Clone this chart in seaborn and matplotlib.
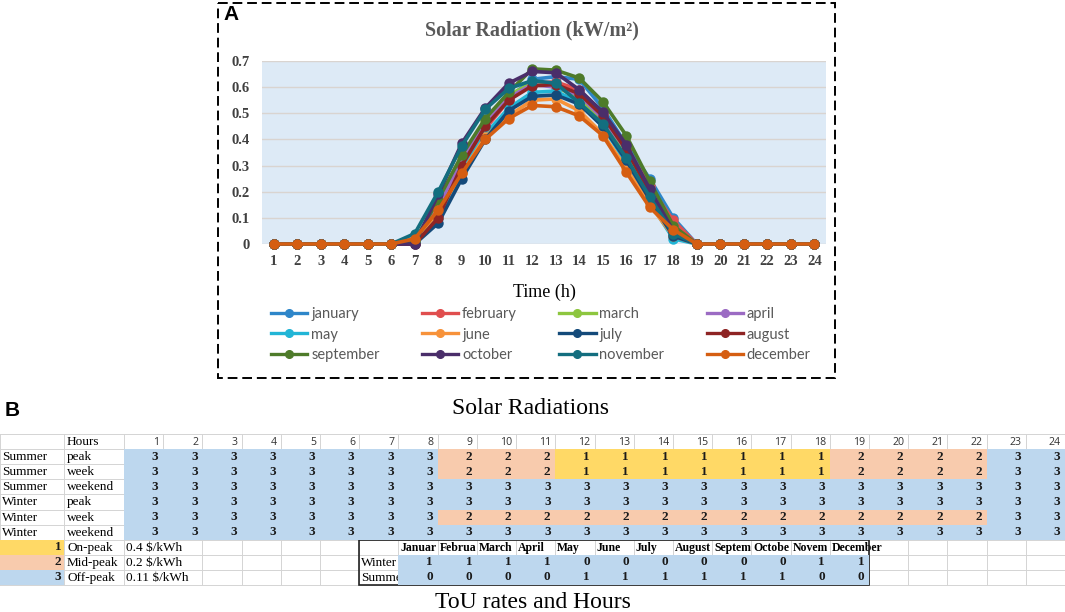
import numpy as np
import pandas as pd
import seaborn as sns
import matplotlib.pyplot as plt
from matplotlib.colors import ListedColormap
from matplotlib.lines import Line2D
from matplotlib.patches import Rectangle

# ---- data: solar radiation (kW/m2) per hour, one list per month ----
hours = list(range(1, 25))
months = ['january', 'february', 'march', 'april', 'may', 'june',
          'july', 'august', 'september', 'october', 'november', 'december']
month_colors = ['#2E86C9', '#E04E4E', '#8DC63F', '#9B6BC3', '#22B5D6', '#F7923A',
                '#144A7A', '#8E2424', '#4E7B2A', '#4A2E6A', '#136E7F', '#D55E12']

january = [0, 0, 0, 0, 0, 0, 0.01, 0.12, 0.30, 0.45, 0.56, 0.63, 0.64, 0.63, 0.52, 0.38, 0.25, 0.10, 0, 0, 0, 0, 0, 0]
february = [0, 0, 0, 0, 0, 0, 0.01, 0.11, 0.29, 0.44, 0.55, 0.615, 0.62, 0.59, 0.50, 0.37, 0.22, 0.09, 0, 0, 0, 0, 0, 0]
march = [0, 0, 0, 0, 0, 0, 0.02, 0.15, 0.33, 0.47, 0.57, 0.615, 0.60, 0.56, 0.47, 0.35, 0.20, 0.06, 0, 0, 0, 0, 0, 0]
april = [0, 0, 0, 0, 0, 0, 0.02, 0.14, 0.32, 0.46, 0.56, 0.61, 0.60, 0.57, 0.48, 0.36, 0.21, 0.06, 0, 0, 0, 0, 0, 0]
may = [0, 0, 0, 0, 0, 0, 0.01, 0.10, 0.28, 0.42, 0.52, 0.58, 0.585, 0.54, 0.45, 0.31, 0.16, 0.02, 0, 0, 0, 0, 0, 0]
june = [0, 0, 0, 0, 0, 0, 0.02, 0.12, 0.27, 0.41, 0.49, 0.55, 0.555, 0.51, 0.42, 0.29, 0.15, 0.03, 0, 0, 0, 0, 0, 0]
july = [0, 0, 0, 0, 0, 0, 0.0, 0.08, 0.25, 0.40, 0.51, 0.565, 0.57, 0.535, 0.45, 0.32, 0.17, 0.03, 0, 0, 0, 0, 0, 0]
august = [0, 0, 0, 0, 0, 0, 0.0, 0.10, 0.30, 0.45, 0.55, 0.605, 0.61, 0.575, 0.49, 0.36, 0.20, 0.05, 0, 0, 0, 0, 0, 0]
september = [0, 0, 0, 0, 0, 0, 0.01, 0.17, 0.34, 0.48, 0.58, 0.67, 0.665, 0.635, 0.545, 0.415, 0.24, 0.07, 0, 0, 0, 0, 0, 0]
october = [0, 0, 0, 0, 0, 0, 0.0, 0.19, 0.385, 0.52, 0.615, 0.66, 0.655, 0.59, 0.505, 0.38, 0.21, 0.05, 0, 0, 0, 0, 0, 0]
november = [0, 0, 0, 0, 0, 0, 0.04, 0.20, 0.375, 0.515, 0.595, 0.625, 0.615, 0.54, 0.46, 0.33, 0.18, 0.04, 0, 0, 0, 0, 0, 0]
december = [0, 0, 0, 0, 0, 0, 0.02, 0.13, 0.27, 0.40, 0.48, 0.53, 0.525, 0.49, 0.415, 0.275, 0.14, 0.055, 0, 0, 0, 0, 0, 0]
radiation = [january, february, march, april, may, june,
             july, august, september, october, november, december]

y_ticks = [0, 0.1, 0.2, 0.3, 0.4, 0.5, 0.6, 0.7]
y_tick_labels = ['0', '0.1', '0.2', '0.3', '0.4', '0.5', '0.6', '0.7']

# ---- data: ToU table ----
tou_seasons = ['Summer', 'Summer', 'Summer', 'Winter', 'Winter', 'Winter']
tou_days = ['peak', 'week', 'weekend', 'peak', 'week', 'weekend']
summer_peak = [3, 3, 3, 3, 3, 3, 3, 3, 2, 2, 2, 1, 1, 1, 1, 1, 1, 1, 2, 2, 2, 2, 3, 3]
summer_week = [3, 3, 3, 3, 3, 3, 3, 3, 2, 2, 2, 1, 1, 1, 1, 1, 1, 1, 2, 2, 2, 2, 3, 3]
summer_weekend = [3, 3, 3, 3, 3, 3, 3, 3, 3, 3, 3, 3, 3, 3, 3, 3, 3, 3, 3, 3, 3, 3, 3, 3]
winter_peak = [3, 3, 3, 3, 3, 3, 3, 3, 3, 3, 3, 3, 3, 3, 3, 3, 3, 3, 3, 3, 3, 3, 3, 3]
winter_week = [3, 3, 3, 3, 3, 3, 3, 3, 2, 2, 2, 2, 2, 2, 2, 2, 2, 2, 2, 2, 2, 2, 3, 3]
winter_weekend = [3, 3, 3, 3, 3, 3, 3, 3, 3, 3, 3, 3, 3, 3, 3, 3, 3, 3, 3, 3, 3, 3, 3, 3]
tou = [summer_peak, summer_week, summer_weekend, winter_peak, winter_week, winter_weekend]

rate_codes = [1, 2, 3]
rate_names = ['On-peak', 'Mid-peak', 'Off-peak']
rate_prices = ['0.4 $/kWh', '0.2 $/kWh', '0.11 $/kWh']
rate_colors = ['#FFD966', '#F8CBAD', '#BDD7EE']

month_short = ['Januar', 'Februa', 'March', 'April', 'May', 'June', 'July',
               'August', 'Septem', 'Octobe', 'Novem', 'December']
season_names = ['Winter', 'Summe']
winter_flag = [1, 1, 1, 1, 0, 0, 0, 0, 0, 0, 1, 1]
summer_flag = [0, 0, 0, 0, 1, 1, 1, 1, 1, 1, 0, 0]

# ---- layout (pixels) ----
W, H = 1065, 612


def frect(x0, y0, x1, y1):
    return [x0 / W, 1 - y1 / H, (x1 - x0) / W, (y1 - y0) / H]


col_x = [0, 64] + list(np.linspace(124, 1065, 25))   # col edges: label, label, 24 hours
row_y = 434 + 15.1 * np.arange(11)                     # header, 6 ToU rows, 3 rate rows
SERIF = 'Liberation Serif'
TS = 9.5

fig = plt.figure(figsize=(W / 100, H / 100), dpi=100)

ov = fig.add_axes([0, 0, 1, 1])
ov.set_xlim(0, W)
ov.set_ylim(H, 0)
ov.axis('off')

# dashed frame of panel A and panel letters / captions
ov.add_patch(Rectangle((218, 3), 617, 375, fill=False, ec='black', lw=1.4, ls=(0, (5, 2.5))))
ov.text(223, 15, 'A', fontsize=15, fontweight='bold', family='Liberation Sans', va='center')
ov.text(5, 410, 'B', fontsize=15, fontweight='bold', family='Liberation Sans', va='center')
ov.text(531, 408, 'Solar Radiations', fontsize=17, family='Liberation Serif', ha='center', va='center')
ov.text(533, 602, 'ToU rates and Hours', fontsize=17, family='Liberation Serif', ha='center', va='center')

# ---- panel A: line chart ----
df = pd.DataFrame({
    'hour': hours * len(months),
    'value': [v for m in radiation for v in m],
    'month': [m for m in months for _ in hours],
})
ax = fig.add_axes(frect(262, 61, 826, 244))
sns.lineplot(data=df, x='hour', y='value', hue='month', hue_order=months,
             palette=month_colors, marker='o', markersize=7.5, markeredgewidth=0,
             linewidth=2.6, legend=False, ax=ax, clip_on=False)
ax.set_facecolor('#DDEAF6')
ax.set_xlim(0.5, 24.5)
ax.set_ylim(0, 0.7)
ax.set_xticks(hours)
ax.set_yticks(y_ticks)
ax.set_yticklabels(y_tick_labels)
ax.grid(axis='y', color='#D9D4D0', lw=1)
ax.set_axisbelow(True)
for s in ax.spines.values():
    s.set_visible(False)
ax.tick_params(length=0, labelsize=10.5, labelcolor='#404040')
ax.tick_params(axis='y', pad=9)
ax.tick_params(axis='x', pad=8)
for lab in ax.get_xticklabels() + ax.get_yticklabels():
    lab.set_family('Liberation Serif')
    lab.set_fontweight('bold')
ax.set_xlabel('')
ax.set_ylabel('')
fig.text(532 / W, 1 - 30 / H, 'Solar Radiation (kW/m²)', ha='center', va='center',
         family='Liberation Serif', fontweight='bold', fontsize=14.5, color='#595959')
fig.text(544 / W, 1 - 292 / H, 'Time (h)', ha='center', va='center',
         family='Liberation Serif', fontsize=13)

handles = [Line2D([], [], color=c, lw=2.4, marker='o', ms=5.5) for c in month_colors]
order = [0, 4, 8, 1, 5, 9, 2, 6, 10, 3, 7, 11]
fig.legend([handles[i] for i in order], [months[i] for i in order],
           loc='upper left', bbox_to_anchor=(271 / W, 1 - 307 / H), ncol=4,
           frameon=False, borderpad=0, borderaxespad=0, handlelength=2.5,
           handletextpad=0.25, columnspacing=2.9, labelspacing=0.45,
           prop={'family': 'Lato', 'size': 10.5}, labelcolor='#595959')

# ---- panel B: table ----
grid_c = '#D4D4D4'
for y in row_y:
    ov.plot([0, W], [y, y], color=grid_c, lw=0.7, zorder=1)
for i, x in enumerate(col_x):
    y_end = row_y[7] if i == 3 else row_y[10]   # price text overflows into hour 2
    ov.plot([x, x], [row_y[0], y_end], color=grid_c, lw=0.7, zorder=1)


def right_align(hax, pad):
    for t in hax.texts:
        x, y = t.get_position()
        t.set_position((x + 0.5 - pad, y))
        t.set_ha('right')


tou_cmap = ListedColormap(rate_colors)
annot_kw = {'family': SERIF, 'fontweight': 'bold', 'size': TS, 'color': '#1a1a1a'}

hax = fig.add_axes(frect(col_x[2], row_y[1], col_x[-1], row_y[7]))
sns.heatmap(np.array(tou), ax=hax, cmap=tou_cmap, vmin=0.5, vmax=3.5, cbar=False,
            annot=True, fmt='d', annot_kws=annot_kw, xticklabels=False, yticklabels=False)
hax.axis('off')
right_align(hax, 0.12)

lax = fig.add_axes(frect(col_x[0], row_y[7], col_x[1], row_y[10]))
sns.heatmap(np.array(rate_codes).reshape(-1, 1), ax=lax, cmap=tou_cmap, vmin=0.5, vmax=3.5,
            cbar=False, annot=True, fmt='d', annot_kws=annot_kw,
            xticklabels=False, yticklabels=False)
lax.axis('off')
right_align(lax, 0.04)

max_ = fig.add_axes(frect(col_x[9], row_y[8], col_x[21], row_y[10]))
sns.heatmap(np.array([winter_flag, summer_flag]), ax=max_, cmap=ListedColormap([rate_colors[2]]),
            vmin=0, vmax=1, cbar=False, annot=True, fmt='d', annot_kws=annot_kw,
            xticklabels=False, yticklabels=False)
max_.axis('off')
right_align(max_, 0.12)


def row_mid(r):
    return (row_y[r] + row_y[r + 1]) / 2 + 0.5


# header row
ov.text(col_x[1] + 3, row_mid(0), 'Hours', family=SERIF, size=TS, va='center')
for h in hours:
    ov.text(col_x[h + 2] - 4, row_mid(0), str(h), family='Open Sans', size=7.6,
            color='#333333', ha='right', va='center')
for r in range(6):
    ov.text(col_x[0] + 2, row_mid(r + 1), tou_seasons[r], family=SERIF, size=TS, va='center')
    ov.text(col_x[1] + 3, row_mid(r + 1), tou_days[r], family=SERIF, size=TS, va='center')
for r in range(3):
    ov.text(col_x[1] + 3, row_mid(r + 7), rate_names[r], family=SERIF, size=TS, va='center')
    ov.text(col_x[2] + 2, row_mid(r + 7), rate_prices[r], family=SERIF, size=TS, va='center')

# month table
for j, m in enumerate(month_short):
    ov.text(col_x[j + 9] + 2, row_mid(7), m, family=SERIF, size=8.5, fontweight='bold', va='center')
for r, s in enumerate(season_names):
    ov.text(col_x[8] + 2, row_mid(r + 8), s, family=SERIF, size=TS, va='center', clip_on=True)
ov.add_patch(Rectangle((col_x[8], row_y[7]), col_x[21] - col_x[8], row_y[10] - row_y[7],
                       fill=False, ec='#222222', lw=1.2, zorder=5))

fig.savefig('out.png', dpi=100)
